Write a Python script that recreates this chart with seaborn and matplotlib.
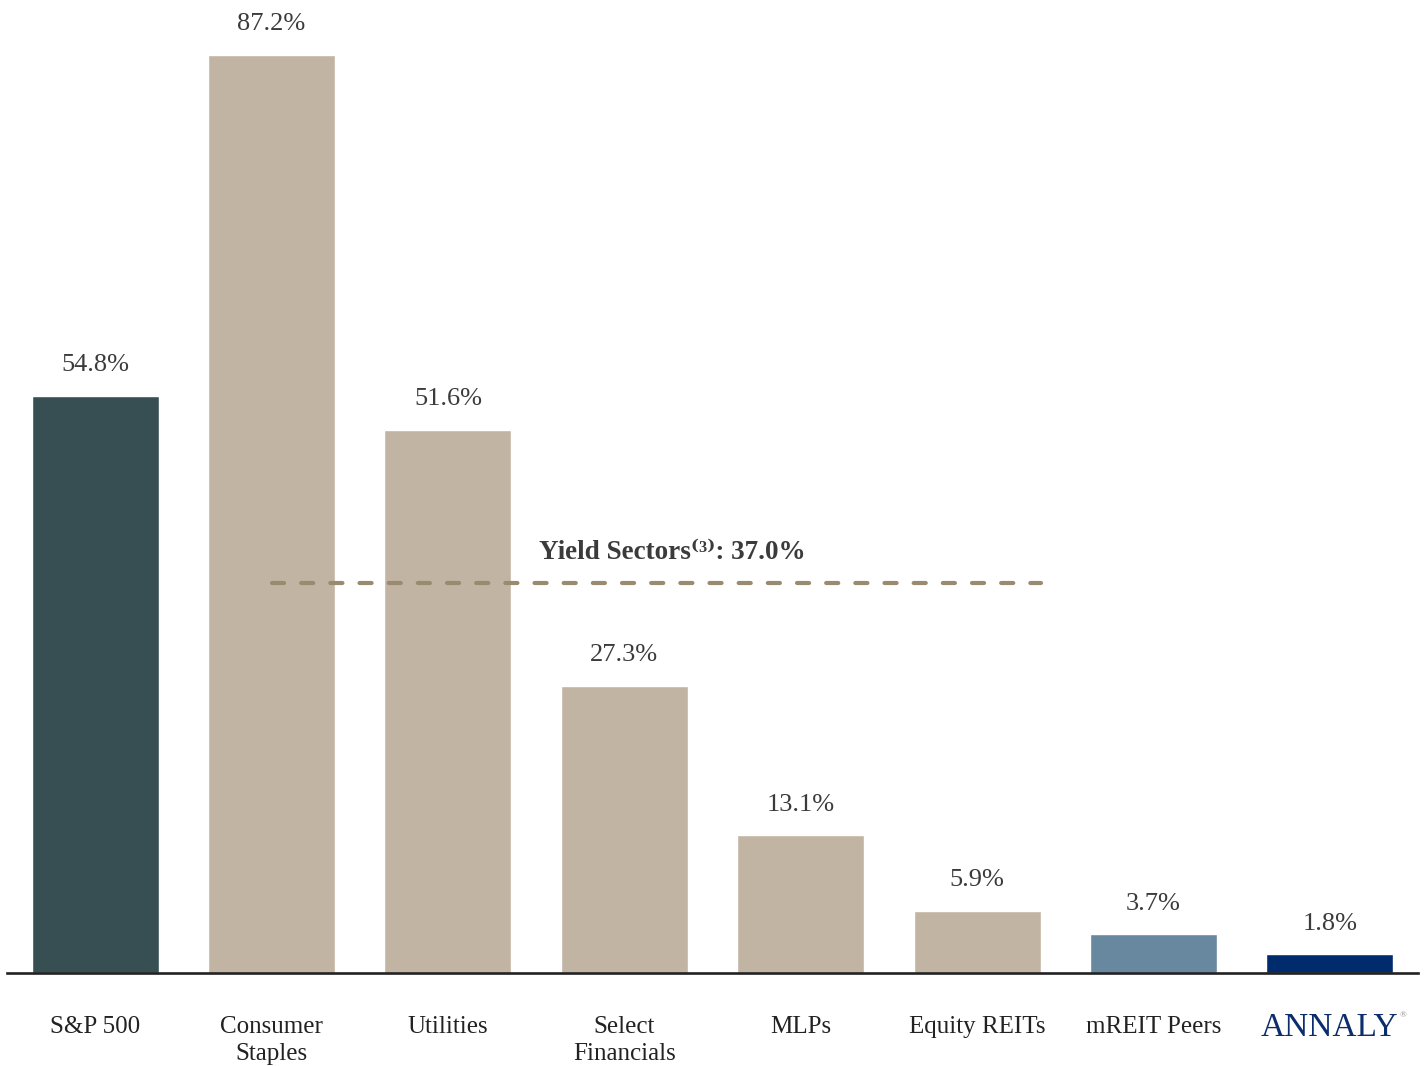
import matplotlib
matplotlib.use("Agg")
import matplotlib.pyplot as plt
import matplotlib.transforms as mtransforms
import seaborn as sns
import pandas as pd

# data
categories = ["S&P 500", "Consumer\nStaples", "Utilities", "Select\nFinancials",
              "MLPs", "Equity REITs", "mREIT Peers", "ANNALY"]
values = [54.8, 87.2, 51.6, 27.3, 13.1, 5.9, 3.7, 1.8]
bar_colors = ["#374f53", "#c2b4a2", "#c2b4a2", "#c2b4a2",
              "#c2b4a2", "#c2b4a2", "#67889f", "#002c6e"]
yield_sectors = 37.0

df = pd.DataFrame({"category": categories, "value": values})

sns.set_theme(style="white")
plt.rcParams["font.family"] = ["Liberation Serif", "DejaVu Serif"]
text_col = "#3b3b3b"

fig = plt.figure(figsize=(14.25, 10.66), dpi=100)
ax = fig.add_axes([0.0049, 0.0872, 0.9902, 0.889])

sns.barplot(data=df, x="category", y="value", hue="category",
            palette=bar_colors, width=0.72, legend=False, ax=ax, saturation=1)

ax.set_xlim(-0.5, 7.5)
ax.set_ylim(0, 90)

# value labels
for i, v in enumerate(values):
    ax.text(i, v + 2.9, f"{v:.1f}%", ha="center", va="center",
            fontsize=19, color=text_col)

# yield sectors average line
ax.plot([1.0, 5.36], [yield_sectors, yield_sectors], linestyle=(0, (2.9, 4.1)),
        color="#998b70", linewidth=3, dash_capstyle="round", zorder=3)
ax.text(3.27, yield_sectors + 2.9, f"Yield Sectors\u207d\u00b3\u207e: {yield_sectors:.1f}%",
        ha="center", va="center", fontsize=19.5, fontweight="bold", color=text_col)

# axes styling
sns.despine(ax=ax, left=True, top=True, right=True)
ax.spines["bottom"].set_color("#222222")
ax.spines["bottom"].set_linewidth(1.9)
ax.set_yticks([])
ax.set_xlabel("")
ax.set_ylabel("")
ax.tick_params(axis="x", length=0, pad=31)
ax.set_xticks(range(len(categories)))
ax.set_xticklabels(categories, fontsize=18, color="#222222", linespacing=1.3, va="top")

# ANNALY logo-style label
lbl = ax.get_xticklabels()[-1]
lbl.set_color("#0b2d6b")
lbl.set_fontsize(24)
lbl.set_y(0.004)
trans = mtransforms.blended_transform_factory(ax.transData, ax.transAxes)
ax.text(7.415, -0.045, "\u00ae", transform=trans, fontsize=6.5, color="#8a8a8a",
        ha="center", va="center")

fig.savefig("out.png", dpi=100)
